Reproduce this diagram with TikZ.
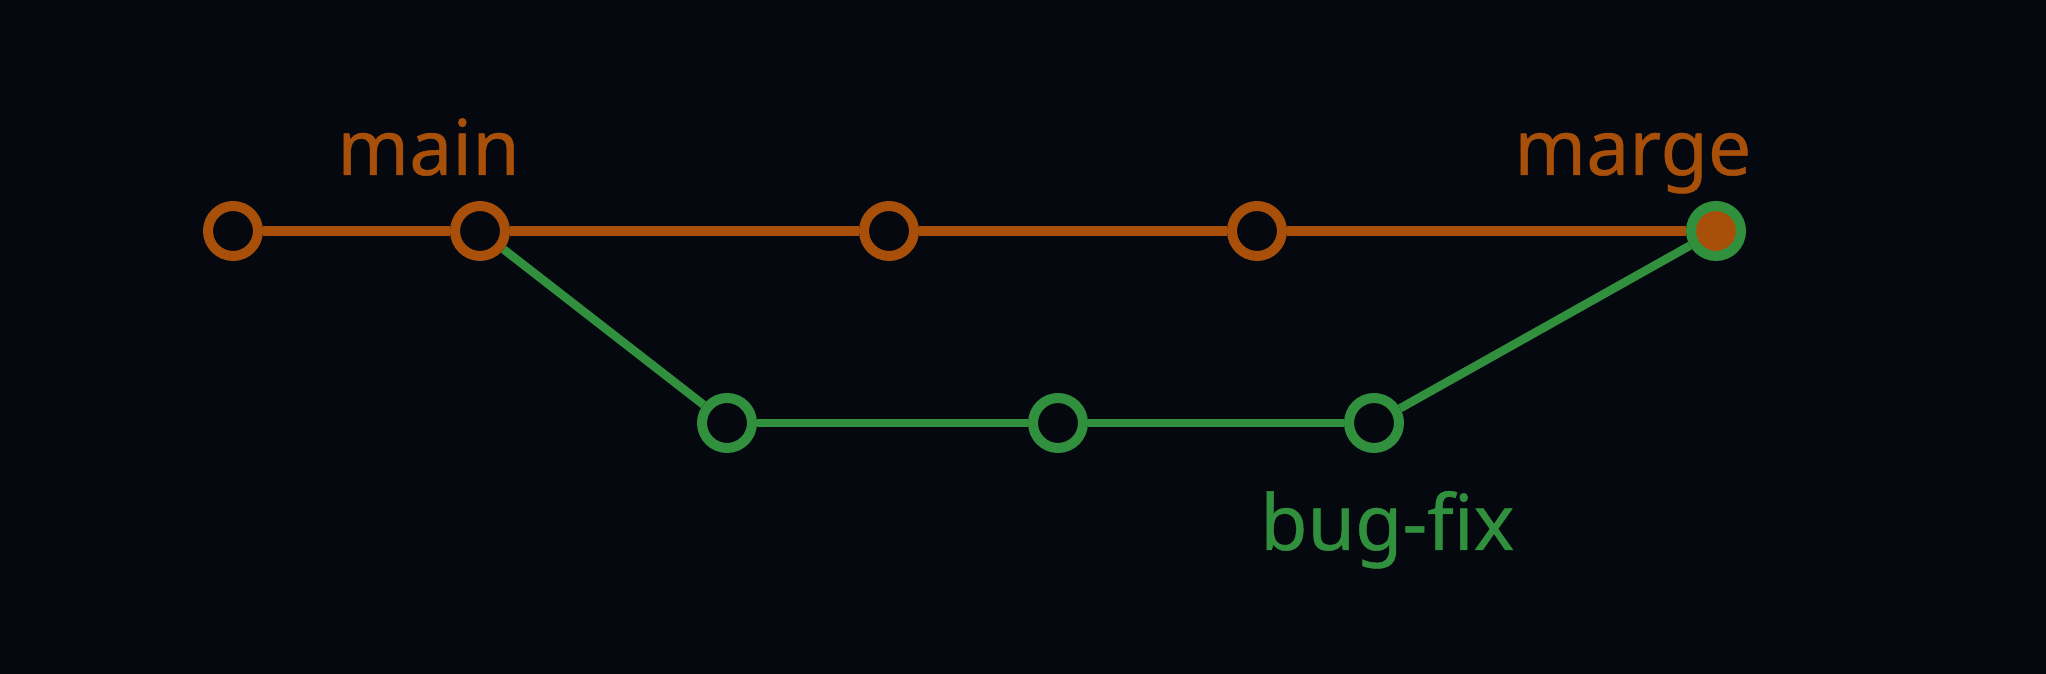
\documentclass[tikz,border=0pt]{standalone}
\usepackage{fontspec}
\setmainfont{Noto Sans}[FakeBold=0.6]
\definecolor{bg}{HTML}{05080F}
\definecolor{org}{HTML}{A8500A}
\definecolor{grn}{HTML}{31903D}
\begin{document}
\begin{tikzpicture}[x=1pt,y=1pt,
  commit/.style={circle,draw=#1,line width=10pt,fill=bg,minimum size=50pt,inner sep=0pt},
  mline/.style={draw=org,line width=10pt},
  gline/.style={draw=grn,line width=8.5pt},
  lbl/.style={text=#1,font=\fontsize{77}{90}\selectfont\bfseries,inner sep=0pt,anchor=base west}]
\fill[bg] (0,0) rectangle (2046,674);
\useasboundingbox (0,0) rectangle (2046,674);
\node[commit=org] (m1) at (233,443) {};
\node[commit=org] (m2) at (480,443) {};
\node[commit=org] (m3) at (889,443) {};
\node[commit=org] (m4) at (1257,443) {};
\node[commit=grn,fill=org] (mg) at (1716,443) {};
\node[commit=grn] (b1) at (727,251) {};
\node[commit=grn] (b2) at (1058,251) {};
\node[commit=grn] (b3) at (1374,251) {};
\draw[mline] (m1) -- (m2);
\draw[mline] (m2) -- (m3);
\draw[mline] (m3) -- (m4);
\draw[mline] (m4) -- (mg);
\draw[gline] (m2) -- (b1);
\draw[gline] (b1) -- (b2);
\draw[gline] (b2) -- (b3);
\draw[gline] (b3) -- (mg);
\node[lbl=org] (lmain) at (337,499) {main};
\node[lbl=org] (lmarge) at (1514,499) {marge};
\node[lbl=grn] (lbug) at (1260,124) {bug-fix};
\end{tikzpicture}
\end{document}
